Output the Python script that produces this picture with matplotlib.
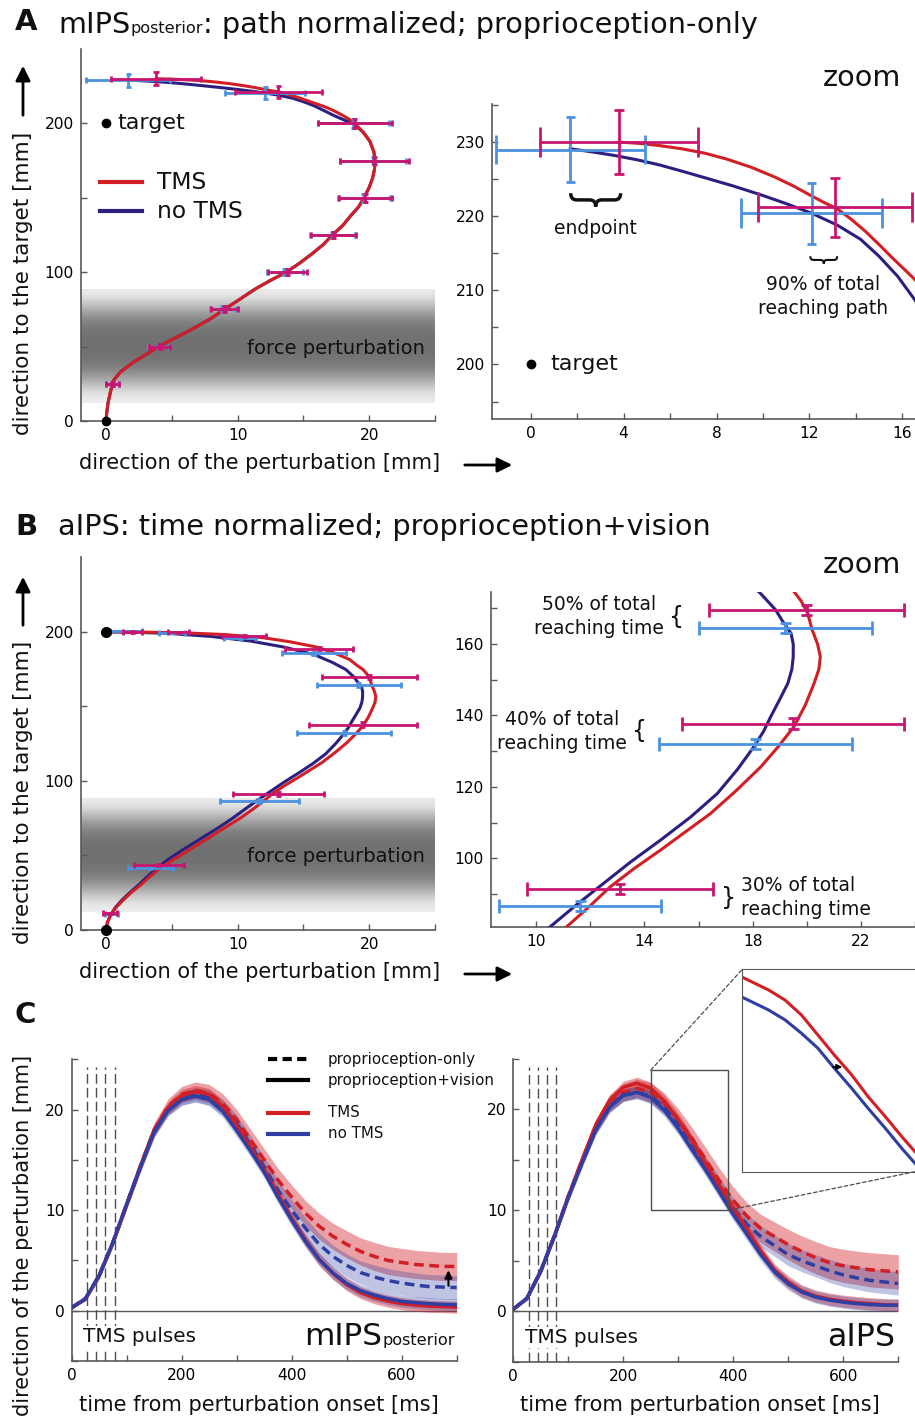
import numpy as np
import matplotlib
matplotlib.use("Agg")
import matplotlib.pyplot as plt
from matplotlib.patches import Rectangle, ConnectionPatch, PathPatch
from matplotlib.path import Path

plt.rcParams["font.family"] = ["DejaVu Sans"]
plt.rcParams["text.color"] = "#111111"

# ---- panel A: mIPS posterior, path normalized (x: perturbation dir, y: target dir, mm)
a_low_x = [0, 0.05, 0.15, 0.35, 0.55, 1.1, 2.0, 3.0, 4.1, 5.3, 6.6, 7.9, 9.0, 10.2, 11.3, 12.5, 13.7,
           14.7, 15.6, 16.5, 17.2, 18.0, 18.6, 19.2, 19.6, 20.0, 20.25, 20.4, 20.45, 20.35, 20.05, 19.55]
a_low_y = [0, 5, 12, 20, 27, 33, 39, 44.5, 50.5, 56, 62, 68.5, 75, 82, 88.5, 94.5, 100,
           106, 112, 118.5, 125, 131.5, 138, 144, 150, 157, 163, 169, 175, 181, 188, 194]
a_tms_top_x = [18.9, 18.5, 18.0, 17.5, 17.0, 16.5, 16.1, 15.6, 15.06, 14.4, 13.8, 13.2, 12.6, 12.0,
               11.3, 10.5, 9.5, 8.45, 7.5, 6.5, 5.5, 4.6, 3.8]
a_tms_top_y = [200, 202.7, 205.3, 207.7, 209.8, 211.6, 212.8, 214.3, 216.0, 218.0, 219.6, 221.0, 221.9,
               222.9, 224.1, 225.3, 226.6, 227.7, 228.5, 229.1, 229.55, 229.85, 230.0]
a_notms_top_x = [18.8, 18.4, 17.9, 17.2, 16.5, 15.8, 15.0, 14.2, 13.2, 12.1, 11.0, 9.9, 8.7, 7.6,
                 6.6, 5.57, 4.6, 3.6, 2.6, 1.7]
a_notms_top_y = [200, 201.2, 203.0, 205.8, 208.9, 211.9, 214.6, 216.9, 218.8, 220.4, 221.7, 222.9,
                 224.1, 225.1, 226.0, 226.9, 227.6, 228.2, 228.7, 229.1]

a_tms_eb_x = [0.5, 4.1, 9.0, 13.8, 17.3, 19.7, 20.4, 18.9, 13.1, 3.8]
a_tms_eb_y = [25, 50, 75, 100, 125, 150, 175, 200, 221.2, 230]
a_tms_eb_xerr = [0.5, 0.8, 1.0, 1.5, 1.7, 2.0, 2.6, 2.8, 3.3, 3.4]
a_tms_eb_yerr = [1.5, 1.5, 2.0, 2.0, 2.0, 2.5, 2.5, 2.8, 4.0, 4.35]
a_notms_eb_x = [0.5, 4.0, 8.9, 13.6, 17.2, 19.6, 20.3, 18.8, 12.1, 1.7]
a_notms_eb_y = [25, 50, 75, 100, 125, 150, 175, 200, 220.4, 229]
a_notms_eb_xerr = [0.5, 0.8, 1.0, 1.4, 1.7, 2.0, 2.5, 2.7, 3.05, 3.2]
a_notms_eb_yerr = [1.5, 1.5, 2.0, 2.0, 2.0, 2.5, 2.5, 2.8, 4.1, 4.4]

# ---- panel B: aIPS, time normalized
b_tms_x = [0, 0.1, 0.35, 0.75, 1.3, 1.9, 2.6, 3.3, 4.1, 5.1, 6.1, 7.2, 8.2, 9.2, 10.2, 11.13,
           11.9, 12.74, 13.6, 14.6, 15.5, 16.44, 17.4, 18.3, 18.95, 19.53, 19.95, 20.27, 20.45, 20.5,
           20.4, 20.2, 20.03, 19.8, 19.53, 19.0, 18.5, 17.3, 16.0, 14.0, 12.0, 9.0, 6.0, 3.0, 0]
b_tms_y = [0, 5, 10, 15, 20, 25, 30, 35.5, 41.5, 47, 52.5, 58.5, 64, 69.5, 75, 80.8,
           86, 92, 97, 102.3, 107.3, 112.5, 119, 125.6, 131.3, 136.9, 143, 149, 153, 156.5,
           160, 164, 168.7, 172, 174.7, 178, 181.5, 186, 189.8, 193.3, 196.0, 198.2, 199.3, 199.8, 200]
b_notms_x = [0, 0.1, 0.35, 0.7, 1.2, 1.8, 2.45, 3.1, 3.85, 4.75, 5.7, 6.7, 7.7, 8.7, 9.7, 10.52,
             11.5, 12.5, 13.5, 14.6, 15.7, 16.69, 17.45, 18.05, 18.4, 18.67, 19.0, 19.3, 19.45, 19.5,
             19.5, 19.42, 19.1, 18.85, 18.5, 18.23, 17.2, 15.8, 13.5, 11.0, 8.0, 5.0, 2.0, 0]
b_notms_y = [0, 5, 10, 15, 20, 25, 30, 35.5, 41.5, 47.5, 53, 58.5, 64, 69.5, 75.5, 80.8,
             87, 93, 99, 105.1, 111.5, 118.1, 125, 131.3, 135.5, 139.7, 144.5, 149, 153, 156.5,
             160, 163, 166.5, 169.6, 172.5, 174.7, 179.5, 184.8, 189.8, 193.8, 196.9, 198.8, 199.8, 200]

b_tms_eb_x = [0.3, 4.0, 13.1, 19.5, 20.0, 16.2, 10.5, 5.5, 2.0]
b_tms_eb_y = [11.2, 43.6, 91.4, 137.7, 169.6, 188.6, 197.3, 199.6, 200.0]
b_tms_eb_xerr = [0.5, 1.9, 3.45, 4.1, 3.6, 2.6, 1.65, 0.8, 0.7]
b_tms_eb_yerr = [0.5, 0.6, 1.5, 1.5, 1.4, 1.0, 0.8, 0.5, 0.5]
b_notms_eb_x = [0.4, 3.4, 11.63, 18.1, 19.2, 15.8, 10.2, 5.0, 1.5]
b_notms_eb_y = [11.0, 41.4, 86.7, 132.0, 164.5, 185.7, 195.8, 199.5, 200.3]
b_notms_eb_xerr = [0.5, 1.7, 3.0, 3.57, 3.2, 2.4, 1.2, 1.0, 1.2]
b_notms_eb_yerr = [0.5, 0.6, 1.4, 1.4, 1.3, 1.0, 0.8, 0.5, 0.5]

start_xy = (0, 0)
target_xy = (0, 200)

# gray levels of the force perturbation zone, bottom (12 mm) to top (88 mm)
band_gray = [0.93, 0.82, 0.66, 0.52, 0.46, 0.44, 0.44, 0.45, 0.50, 0.62, 0.78, 0.92]

# ---- panel C: lateral deviation over time
t_ms = [0, 25, 50, 75, 100, 125, 150, 175, 200, 225, 250, 275, 300, 325, 350,
        375, 400, 425, 450, 475, 500, 525, 550, 575, 600, 625, 650, 675, 700]
tms_pulse_t = [28, 45, 61, 78]

mp_tms_pv = [0.3, 1.2, 3.5, 6.8, 10.6, 14.4, 18.0, 20.2, 21.4, 21.8, 21.5, 20.3, 18.4, 16.3, 14.0,
             11.6, 9.2, 7.0, 5.1, 3.7, 2.6, 1.8, 1.3, 0.95, 0.7, 0.55, 0.45, 0.4, 0.35]
mp_notms_pv = [0.3, 1.2, 3.5, 6.8, 10.6, 14.3, 17.8, 19.9, 21.0, 21.35, 21.0, 19.8, 17.9, 15.9, 13.8,
               11.3, 9.0, 6.9, 5.1, 3.75, 2.7, 2.0, 1.55, 1.2, 0.93, 0.8, 0.7, 0.62, 0.6]
mp_tms_p = [0.3, 1.2, 3.5, 6.8, 10.6, 14.4, 18.0, 20.3, 21.5, 21.9, 21.6, 20.6, 19.0, 17.0, 15.0,
            13.0, 11.3, 9.7, 8.4, 7.4, 6.6, 5.9, 5.4, 5.0, 4.8, 4.6, 4.5, 4.4, 4.4]
mp_notms_p = [0.3, 1.2, 3.5, 6.8, 10.6, 14.3, 17.8, 20.0, 21.1, 21.5, 21.2, 20.2, 18.6, 16.5, 14.3,
              12.0, 10.0, 8.2, 6.6, 5.4, 4.5, 3.8, 3.35, 3.0, 2.75, 2.55, 2.4, 2.35, 2.3]

ai_tms_pv = [0.2, 1.3, 4.0, 7.5, 11.4, 15.0, 18.5, 20.9, 22.2, 22.6, 22.1, 20.8, 19.0, 16.9, 14.6,
             12.4, 10.2, 8.1, 6.0, 4.1, 2.9, 2.0, 1.5, 1.2, 1.0, 0.85, 0.75, 0.65, 0.6]
ai_notms_pv = [0.2, 1.3, 4.0, 7.5, 11.3, 14.7, 18.0, 20.2, 21.4, 21.7, 21.2, 19.9, 18.1, 16.0, 14.0,
               11.8, 9.6, 7.6, 5.6, 3.9, 2.7, 1.9, 1.4, 1.1, 0.9, 0.75, 0.65, 0.6, 0.6]
ai_tms_p = [0.2, 1.3, 4.0, 7.5, 11.4, 15.0, 18.3, 20.6, 21.7, 22.1, 21.7, 20.6, 19.0, 17.1, 15.0,
            12.9, 11.0, 9.4, 8.2, 7.4, 6.6, 5.9, 5.3, 4.8, 4.5, 4.3, 4.1, 4.0, 3.9]
ai_notms_p = [0.2, 1.3, 4.0, 7.5, 11.3, 14.7, 18.0, 20.3, 21.4, 21.7, 21.3, 20.2, 18.5, 16.5, 14.4,
              12.3, 10.2, 8.6, 7.4, 6.5, 5.6, 5.0, 4.5, 4.0, 3.6, 3.3, 3.05, 2.9, 2.75]

# enlarged view of the aIPS proprioception+vision curves (inset)
inset_t = [250, 266, 276, 286, 296, 306, 316.5, 326.5, 337, 347, 355]
inset_tms = [22.14, 21.56, 21.10, 20.42, 19.51, 18.60, 17.70, 16.71, 15.80, 14.89, 14.21]
inset_notms = [21.23, 20.65, 20.20, 19.59, 18.91, 18.00, 17.09, 16.18, 15.27, 14.36, 13.68]

sd_pv = [0.1, 0.2, 0.3, 0.35, 0.4, 0.45, 0.5, 0.55, 0.6, 0.6, 0.6, 0.6, 0.6, 0.6, 0.6,
         0.6, 0.6, 0.6, 0.6, 0.6, 0.6, 0.6, 0.6, 0.6, 0.6, 0.6, 0.6, 0.6, 0.6]
sd_mp_tms_p = [0.1, 0.2, 0.3, 0.4, 0.5, 0.6, 0.7, 0.75, 0.8, 0.85, 0.9, 0.95, 1.0, 1.05, 1.1,
               1.15, 1.2, 1.25, 1.3, 1.3, 1.35, 1.35, 1.4, 1.4, 1.4, 1.4, 1.4, 1.4, 1.4]
sd_mp_notms_p = [0.1, 0.2, 0.3, 0.4, 0.45, 0.5, 0.55, 0.6, 0.65, 0.7, 0.75, 0.8, 0.85, 0.9, 0.95,
                 1.0, 1.0, 1.05, 1.1, 1.1, 1.15, 1.15, 1.2, 1.2, 1.2, 1.2, 1.2, 1.2, 1.2]
sd_ai_tms_p = [0.1, 0.2, 0.3, 0.4, 0.5, 0.6, 0.7, 0.8, 0.85, 0.9, 0.95, 1.0, 1.05, 1.1, 1.2,
               1.25, 1.3, 1.35, 1.4, 1.45, 1.5, 1.55, 1.6, 1.6, 1.65, 1.65, 1.7, 1.7, 1.7]
sd_ai_notms_p = [0.1, 0.2, 0.3, 0.35, 0.4, 0.45, 0.5, 0.55, 0.6, 0.65, 0.7, 0.75, 0.8, 0.85, 0.9,
                 0.95, 1.0, 1.0, 1.05, 1.05, 1.1, 1.1, 1.1, 1.15, 1.15, 1.15, 1.15, 1.15, 1.15]

RED = "#d21f26"
NAVY = "#2b1f80"
BLUE = "#2f3ea3"
MAG = "#c8156f"
LBLUE = "#4c92e0"
AXC = "0.35"

W, H = 915, 1420
fig = plt.figure(figsize=(W / 100, H / 100), dpi=100)


def px_rect(l, t, r, b):
    return [l / W, 1 - b / H, (r - l) / W, (b - t) / H]


def style(ax, xt, xlab, yt, ylab):
    for s in ("top", "right"):
        ax.spines[s].set_visible(False)
    for s in ("left", "bottom"):
        ax.spines[s].set_color(AXC)
        ax.spines[s].set_linewidth(1.2)
    ax.set_xticks(xt)
    ax.set_xticklabels([str(v) if v in xlab else "" for v in xt])
    ax.set_yticks(yt)
    ax.set_yticklabels([str(v) if v in ylab else "" for v in yt])
    ax.tick_params(direction="in", length=4, width=1, color=AXC, labelsize=11.2, pad=5)


def ebars(ax, x, y, xerr, yerr, color, min_y, capy=2.0, capx=0.2):
    x, y, xerr, yerr = map(np.asarray, (x, y, xerr, yerr))
    keep = y >= min_y
    x, y, xerr, yerr = x[keep], y[keep], xerr[keep], yerr[keep]
    kw = dict(colors=color, lw=2, zorder=4)
    ax.hlines(y, x - xerr, x + xerr, **kw)
    ax.vlines(np.r_[x - xerr, x + xerr], np.r_[y, y] - capy, np.r_[y, y] + capy, **kw)
    ax.vlines(x, y - yerr, y + yerr, **kw)
    ax.hlines(np.r_[y - yerr, y + yerr], np.r_[x, x] - capx, np.r_[x, x] + capx, **kw)


def force_band(ax, xlim):
    ax.imshow(np.array(band_gray)[:, None], extent=(xlim[0], xlim[1], 12, 88), origin="lower",
              cmap="gray", vmin=0, vmax=1, aspect="auto", interpolation="bicubic", zorder=0)
    ax.text(10.7, 49, "force perturbation", fontsize=14, va="center", zorder=1)


def brace(ax, x0, x1, y, h, lw):
    xm = (x0 + x1) / 2
    q = (x1 - x0) * 0.12
    verts = [(x0, y), (x0, y - h / 2), (x0 + q, y - h / 2), (xm - q, y - h / 2),
             (xm, y - h / 2), (xm, y - h), (xm, y - h / 2), (xm + q, y - h / 2),
             (x1 - q, y - h / 2), (x1, y - h / 2), (x1, y)]
    codes = [Path.MOVETO, Path.CURVE3, Path.CURVE3, Path.LINETO, Path.CURVE3, Path.CURVE3,
             Path.CURVE3, Path.CURVE3, Path.LINETO, Path.CURVE3, Path.CURVE3]
    ax.add_patch(PathPatch(Path(verts, codes), fill=False, lw=lw, color="#111111"))


def path_panel(ax, d, xlim, ylim, dot_ms, eb_min_y=-1, dots_unclipped=True):
    ax.plot(d["nx"], d["ny"], color=NAVY, lw=2.2, zorder=3)
    ax.plot(d["tx"], d["ty"], color=RED, lw=2.2, zorder=3)
    ebars(ax, *d["neb"], LBLUE, eb_min_y)
    ebars(ax, *d["teb"], MAG, eb_min_y)
    ax.plot([start_xy[0], target_xy[0]], [start_xy[1], target_xy[1]], "o", color="k",
            ms=dot_ms, zorder=5, clip_on=not dots_unclipped)
    ax.set_xlim(*xlim)
    ax.set_ylim(*ylim)


A = dict(tx=a_low_x + a_tms_top_x, ty=a_low_y + a_tms_top_y,
         nx=a_low_x + a_notms_top_x, ny=a_low_y + a_notms_top_y,
         teb=(a_tms_eb_x, a_tms_eb_y, a_tms_eb_xerr, a_tms_eb_yerr),
         neb=(a_notms_eb_x, a_notms_eb_y, a_notms_eb_xerr, a_notms_eb_yerr))
B = dict(tx=b_tms_x, ty=b_tms_y, nx=b_notms_x, ny=b_notms_y,
         teb=(b_tms_eb_x, b_tms_eb_y, b_tms_eb_xerr, b_tms_eb_yerr),
         neb=(b_notms_eb_x, b_notms_eb_y, b_notms_eb_xerr, b_notms_eb_yerr))

# ---------------- A left
axA = fig.add_axes(px_rect(81, 49, 435, 421))
force_band(axA, (-1.9, 25))
path_panel(axA, A, (-1.9, 25), (0, 250), 6)
style(axA, [0, 5, 10, 15, 20, 25], [0, 10, 20], [0, 50, 100, 150, 200], [0, 100, 200])
axA.text(0.9, 200, "target", fontsize=16, va="center")
for y, c, s in ((160.4, RED, "TMS"), (141, NAVY, "no TMS")):
    axA.plot([-0.45, 2.7], [y, y], color=c, lw=3)
    axA.text(3.9, y, s, fontsize=16.8, va="center")

# ---------------- A right (zoom)
axAz = fig.add_axes(px_rect(492, 104.3, 915, 419.3))
path_panel(axAz, A, (-1.67, 16.55), (192.6, 235.1), 6, eb_min_y=210, dots_unclipped=False)
style(axAz, list(range(0, 17, 2)), [0, 4, 8, 12, 16], list(range(195, 236, 5)), [200, 210, 220, 230])
axAz.text(0.83, 200, "target", fontsize=16, va="center")
brace(axAz, 1.72, 3.87, 223.1, 1.8, 2.5)
axAz.text(2.77, 218.4, "endpoint", fontsize=13.5, ha="center", va="center")
brace(axAz, 12.04, 13.2, 214.6, 1.0, 1.5)
axAz.text(12.6, 209.2, "90% of total\nreaching path", fontsize=13.5, ha="center", va="center",
          linespacing=1.35)

# ---------------- B left
axB = fig.add_axes(px_rect(81, 557.3, 435, 930))
force_band(axB, (-1.9, 25))
path_panel(axB, B, (-1.9, 25), (0, 250), 7)
style(axB, [0, 5, 10, 15, 20, 25], [0, 10, 20], [0, 50, 100, 150, 200], [0, 100, 200])

# ---------------- B right (zoom)
axBz = fig.add_axes(px_rect(491, 591.7, 915, 926.7))
path_panel(axBz, B, (8.33, 24.0), (80.8, 174.7), 6, dots_unclipped=False)
style(axBz, list(range(10, 25, 2)), [10, 14, 18, 22], list(range(90, 171, 10)), [100, 120, 140, 160])
for x, y, s in ((12.33, 167.7, "50% of total\nreaching time"),
                (10.96, 135.5, "40% of total\nreaching time")):
    axBz.text(x, y, s, fontsize=13.5, ha="center", va="center", linespacing=1.35)
axBz.text(15.15, 167.7, "{", fontsize=17, ha="center", va="center")
axBz.text(13.78, 135.7, "{", fontsize=17, ha="center", va="center")
axBz.text(17.1, 88.9, "}", fontsize=17, ha="center", va="center")
axBz.text(17.56, 88.9, "30% of total\nreaching time", fontsize=13.5, ha="left", va="center",
          linespacing=1.35)


# ---------------- C
def time_panel(ax, curves):
    for m, s, c, dashed in curves:
        m, s = np.asarray(m), np.asarray(s)
        ax.fill_between(t_ms, m - s, m + s, color=c, alpha=0.42 if c == RED else 0.3, lw=0, zorder=2)
    for m, s, c, dashed in curves:
        ax.plot(t_ms, m, color=c, lw=2.5, ls=(0, (2.8, 1.6)) if dashed else "-", zorder=3)
    ax.axhline(0, color=AXC, lw=1, zorder=1)
    ax.vlines(tms_pulse_t, -5, 24.2, colors="0.3", lw=1, linestyles=(0, (7, 3)), zorder=1)
    ax.text(21, -2.6, "TMS pulses", fontsize=14.4, va="center", zorder=4,
            bbox=dict(fc="white", ec="none", pad=1))
    ax.set_xlim(0, 700)
    ax.set_ylim(-5, 25)
    style(ax, list(range(0, 701, 100)), [0, 200, 400, 600], [-5, 0, 5, 10, 15, 20, 25], [0, 10, 20])


axCl = fig.add_axes(px_rect(71.7, 1059.3, 456.7, 1361))
time_panel(axCl, [(mp_tms_p, sd_mp_tms_p, RED, True), (mp_notms_p, sd_mp_notms_p, BLUE, True),
                  (mp_tms_pv, sd_pv, RED, False), (mp_notms_pv, sd_pv, BLUE, False)])
axCl.annotate("", xy=(685, 4.3), xytext=(685, 2.2),
              arrowprops=dict(arrowstyle="-|>", color="k", lw=1.5, mutation_scale=11))
tp = axCl.text(697, -3.4, "posterior", fontsize=11.6, ha="right", va="baseline")
axCl.annotate("mIPS", xy=(0, -3.4), xycoords=(tp, "data"), fontsize=22.4, ha="right", va="baseline")

axCr = fig.add_axes(px_rect(513.3, 1059, 898.3, 1361.7))
time_panel(axCr, [(ai_tms_p, sd_ai_tms_p, RED, True), (ai_notms_p, sd_ai_notms_p, BLUE, True),
                  (ai_tms_pv, sd_pv, RED, False), (ai_notms_pv, sd_pv, BLUE, False)])
axCr.text(694, -3.4, "aIPS", fontsize=22.8, ha="right", va="baseline")
zoom_t = (250, 390)
zoom_y = (10, 23.9)
axCr.add_patch(Rectangle((zoom_t[0], zoom_y[0]), zoom_t[1] - zoom_t[0], zoom_y[1] - zoom_y[0],
                         fill=False, ec="0.3", lw=1, zorder=5))

axI = fig.add_axes(px_rect(742.3, 969.3, 915, 1171.7))
axI.plot(inset_t, inset_tms, color=RED, lw=2.2)
axI.plot(inset_t, inset_notms, color=BLUE, lw=2.2)
axI.set_xlim(250, 355)
axI.set_ylim(13.3, 22.5)
axI.set_xticks([])
axI.set_yticks([])
for s in axI.spines.values():
    s.set_color(AXC)
axI.spines["right"].set_visible(False)
axI.annotate("", xy=(312.5, 18.06), xytext=(303.4, 18.06),
             arrowprops=dict(arrowstyle="-|>", color="k", lw=1.2, mutation_scale=8))
for xyA, xyB in (((zoom_t[0], zoom_y[1]), (0, 1)), ((zoom_t[1], zoom_y[0]), (1, 0))):
    fig.add_artist(ConnectionPatch(xyA=xyA, coordsA=axCr.transData, xyB=xyB, coordsB=axI.transAxes,
                                   ls=(0, (3, 2)), color="0.3", lw=0.9))

# overlay axes in pixel coordinates (y down) for titles, labels, arrows, C legend
ov = fig.add_axes([0, 0, 1, 1])
ov.set_xlim(0, W)
ov.set_ylim(H, 0)
ov.axis("off")
ov.set_zorder(10)

for y, letter in ((22, "A"), (527, "B"), (1015, "C")):
    ov.text(15, y, letter, fontsize=21, fontweight="bold", va="center")
t1 = ov.text(58, 33, "mIPS", fontsize=20.7, va="baseline")
t2 = ov.annotate("posterior", xy=(1, 33), xycoords=(t1, "data"), fontsize=11.6, va="baseline")
ov.annotate(": path normalized; proprioception-only", xy=(1, 33), xycoords=(t2, "data"),
            fontsize=20.7, va="baseline")
ov.text(58, 535, "aIPS: time normalized; proprioception+vision", fontsize=20.7, va="baseline")
ov.text(862, 78, "zoom", fontsize=20.6, ha="center", va="center")
ov.text(862, 565, "zoom", fontsize=20.6, ha="center", va="center")

for yc, ya in ((283, (118, 63)), (792, (628, 574))):
    ov.text(23, yc, "direction to the target [mm]", fontsize=15.5, rotation=90, ha="center", va="center")
    ov.annotate("", xy=(23, ya[1]), xytext=(23, ya[0]),
                arrowprops=dict(arrowstyle="-|>", color="k", lw=2, mutation_scale=22))
for yc in (463, 972):
    ov.text(260, yc, "direction of the perturbation [mm]", fontsize=15.1, ha="center", va="center")
    ov.annotate("", xy=(515, yc + 2), xytext=(462, yc + 2),
                arrowprops=dict(arrowstyle="-|>", color="k", lw=2, mutation_scale=22))
ov.text(23, 1235, "direction of the perturbation [mm]", fontsize=15.1, rotation=90,
        ha="center", va="center")
ov.text(259, 1405, "time from perturbation onset [ms]", fontsize=15.1, ha="center", va="center")
ov.text(700, 1405, "time from perturbation onset [ms]", fontsize=15.1, ha="center", va="center")

for y, c, ls, s in ((1059.3, "k", (0, (2.2, 1.3)), "proprioception-only"),
                    (1080, "k", "-", "proprioception+vision"),
                    (1112.7, RED, "-", "TMS"), (1134, BLUE, "-", "no TMS")):
    ov.plot([268, 308], [y, y], color=c, lw=3, ls=ls)
    ov.text(328, y, s, fontsize=10.8, va="center")

fig.savefig("out.png", dpi=100)
